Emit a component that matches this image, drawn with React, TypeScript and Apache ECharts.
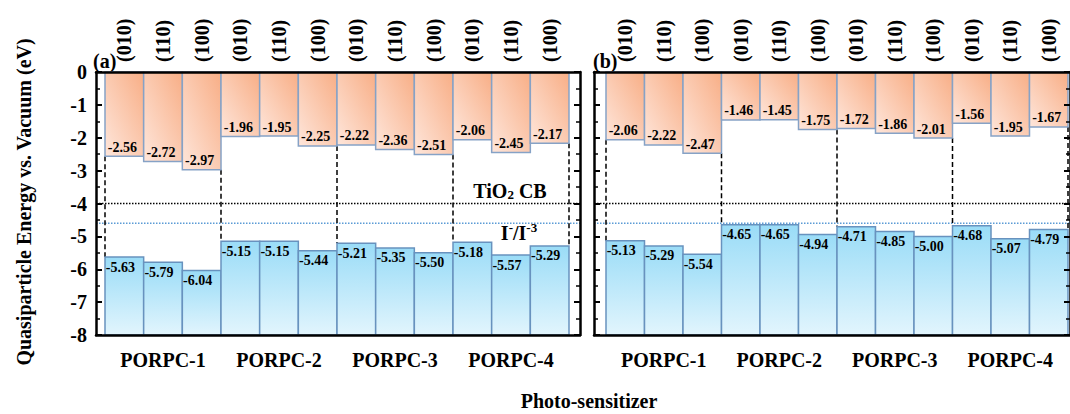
import React, { useEffect, useRef } from 'react';
import * as echarts from 'echarts';

const facetLabels = ['(010)', '(110)', '(100)', '(010)', '(110)', '(100)', '(010)', '(110)', '(100)', '(010)', '(110)', '(100)'];
const sensitizers = ['PORPC-1', 'PORPC-2', 'PORPC-3', 'PORPC-4'];
const lumoA = [-2.56, -2.72, -2.97, -1.96, -1.95, -2.25, -2.22, -2.36, -2.51, -2.06, -2.45, -2.17];
const homoA = [-5.63, -5.79, -6.04, -5.15, -5.15, -5.44, -5.21, -5.35, -5.50, -5.18, -5.57, -5.29];
const lumoB = [-2.06, -2.22, -2.47, -1.46, -1.45, -1.75, -1.72, -1.86, -2.01, -1.56, -1.95, -1.67];
const homoB = [-5.13, -5.29, -5.54, -4.65, -4.65, -4.94, -4.71, -4.85, -5.00, -4.68, -5.07, -4.79];
const tio2CB = -4.0;
const redoxLevel = -4.6;
const energyMin = -8;
const energyMax = 0;
const groupSize = 3;

const FONT = 'Liberation Serif';

function boundaryData(lumo: number[], homo: number[]) {
  const out: number[][] = [];
  for (let b = 0; b <= lumo.length; b += groupSize) {
    const nb = [b - 1, b].filter((k) => k >= 0 && k < lumo.length);
    const top = Math.min(...nb.map((k) => lumo[k]));
    const bottom = Math.max(...nb.map((k) => homo[k]));
    const idx = b < lumo.length ? b : lumo.length - 1;
    const side = b < lumo.length ? -1 : 1;
    out.push([idx, top, bottom, side]);
  }
  return out;
}

function barData(lumo: number[], homo: number[]) {
  return lumo.map((v, i) => [i, v, homo[i]]);
}

const labelStyle = { font: 'bold 14px Liberation Serif', fill: '#000' };

function renderBars(params: any, api: any) {
  const i = api.value(0);
  const lv = api.value(1);
  const hv = api.value(2);
  const bw = api.size([1, 0])[0];
  const pTop = api.coord([i, energyMax]);
  const pL = api.coord([i, lv]);
  const pH = api.coord([i, hv]);
  const pB = api.coord([i, energyMin]);
  const x = pTop[0] - bw / 2;
  return {
    type: 'group',
    children: [
      {
        type: 'rect',
        shape: { x, y: pTop[1], width: bw, height: pL[1] - pTop[1] },
        style: {
          fill: new echarts.graphic.LinearGradient(0, 1, 1, 0, [
            { offset: 0, color: '#fee6db' },
            { offset: 1, color: '#f8ae86' },
          ]),
          stroke: '#86a2c6',
          lineWidth: 1.5,
        },
      },
      {
        type: 'rect',
        shape: { x, y: pH[1], width: bw, height: pB[1] - pH[1] },
        style: {
          fill: new echarts.graphic.LinearGradient(0, 0, 0, 1, [
            { offset: 0, color: '#9adcf7' },
            { offset: 1, color: '#e2f5fd' },
          ]),
          stroke: '#6892be',
          lineWidth: 1.5,
        },
      },
      {
        type: 'text',
        x: pTop[0] - 2,
        y: pL[1] - 2,
        style: { ...labelStyle, text: lv.toFixed(2), align: 'center', verticalAlign: 'bottom' },
      },
      {
        type: 'text',
        x: pTop[0] - 4,
        y: pH[1] + 3,
        style: { ...labelStyle, text: hv.toFixed(2), align: 'center', verticalAlign: 'top' },
      },
    ],
  };
}

function renderBoundary(params: any, api: any) {
  const idx = api.value(0);
  const bw = api.size([1, 0])[0];
  const a = api.coord([idx, api.value(1)]);
  const c = api.coord([idx, api.value(2)]);
  const x = a[0] + (api.value(3) * bw) / 2;
  return {
    type: 'line',
    shape: { x1: x, y1: a[1], x2: x, y2: c[1] },
    style: { stroke: '#000', lineWidth: 1.5, lineDash: [5, 3] },
  };
}

const frameX = (gridIndex: number, position: string) => ({
  gridIndex,
  type: 'value',
  min: 0,
  max: 1,
  position,
  z: 6,
  axisLine: { show: true, onZero: false, lineStyle: { color: '#000', width: 2.5 } },
  axisTick: { show: false },
  axisLabel: { show: false },
  splitLine: { show: false },
});

const frameY = (gridIndex: number, position: string, labels: boolean) => ({
  gridIndex,
  type: 'value',
  min: energyMin,
  max: energyMax,
  interval: 1,
  position,
  z: 6,
  axisLine: { show: true, onZero: false, lineStyle: { color: '#000', width: 2.5 } },
  axisTick: { show: true, inside: true, length: 6, lineStyle: { color: '#000', width: 2 } },
  minorTick: { show: true, splitNumber: 2, length: 4, lineStyle: { color: '#000', width: 1.5 } },
  axisLabel: {
    show: labels,
    fontSize: 20,
    fontWeight: 'bold',
    fontFamily: FONT,
    color: '#000',
    margin: 9,
  },
  splitLine: { show: false },
});

const facetAxis = (gridIndex: number) => ({
  gridIndex,
  type: 'category',
  data: facetLabels,
  position: 'top',
  axisLine: { show: false },
  axisTick: { show: false },
  axisLabel: {
    interval: 0,
    rotate: 90,
    fontSize: 20,
    fontWeight: 'bold',
    fontFamily: FONT,
    color: '#000',
    margin: 10,
  },
  splitLine: { show: false },
});

const groupAxis = (gridIndex: number) => ({
  gridIndex,
  type: 'category',
  data: sensitizers,
  position: 'bottom',
  axisLine: { show: false },
  axisTick: { show: false },
  axisLabel: {
    interval: 0,
    fontSize: 20,
    fontWeight: 'bold',
    fontFamily: FONT,
    color: '#000',
    margin: 15,
  },
  splitLine: { show: false },
});

const hiddenY = (gridIndex: number) => ({
  gridIndex,
  type: 'value',
  min: energyMin,
  max: energyMax,
  show: false,
});

const levelLine = (xAxisIndex: number, yAxisIndex: number, level: number, color: string) => ({
  type: 'line',
  xAxisIndex,
  yAxisIndex,
  data: [
    [0, level],
    [1, level],
  ],
  symbol: 'none',
  silent: true,
  z: 1,
  lineStyle: { color, width: 1.5, type: 'dotted' },
});

export default function App() {
  const ref = useRef<HTMLDivElement>(null);
  useEffect(() => {
    if (!ref.current) return;
    const chart = echarts.init(ref.current, null, { renderer: 'svg' });
    const textBase = { fontWeight: 'bold', fontFamily: FONT, fill: '#000' };
    chart.setOption({
      animation: false,
      backgroundColor: '#fff',
      textStyle: { fontFamily: FONT },
      grid: [
        { left: 96, top: 72, width: 484, height: 263 },
        { left: 105, top: 72, width: 464, height: 263 },
        { left: 594, top: 72, width: 484, height: 263 },
        { left: 606, top: 72, width: 462, height: 263 },
      ],
      xAxis: [
        frameX(0, 'bottom'),
        frameX(0, 'top'),
        facetAxis(1),
        groupAxis(1),
        frameX(2, 'bottom'),
        frameX(2, 'top'),
        facetAxis(3),
        groupAxis(3),
      ],
      yAxis: [
        frameY(0, 'left', true),
        frameY(0, 'right', false),
        hiddenY(1),
        frameY(2, 'left', false),
        frameY(2, 'right', false),
        hiddenY(3),
      ],
      series: [
        levelLine(0, 0, tio2CB, '#000'),
        levelLine(0, 0, redoxLevel, '#5b9bd5'),
        levelLine(4, 3, tio2CB, '#000'),
        levelLine(4, 3, redoxLevel, '#5b9bd5'),
        {
          type: 'custom',
          xAxisIndex: 2,
          yAxisIndex: 2,
          z: 2,
          silent: true,
          data: boundaryData(lumoA, homoA),
          encode: { x: 0, y: [1, 2] },
          renderItem: renderBoundary,
        },
        {
          type: 'custom',
          xAxisIndex: 2,
          yAxisIndex: 2,
          z: 3,
          silent: true,
          data: barData(lumoA, homoA),
          encode: { x: 0, y: [1, 2] },
          renderItem: renderBars,
        },
        {
          type: 'custom',
          xAxisIndex: 6,
          yAxisIndex: 5,
          z: 2,
          silent: true,
          data: boundaryData(lumoB, homoB),
          encode: { x: 0, y: [1, 2] },
          renderItem: renderBoundary,
        },
        {
          type: 'custom',
          xAxisIndex: 6,
          yAxisIndex: 5,
          z: 3,
          silent: true,
          data: barData(lumoB, homoB),
          encode: { x: 0, y: [1, 2] },
          renderItem: renderBars,
        },
      ],
      graphic: [
        {
          type: 'text',
          x: 24,
          y: 202,
          rotation: Math.PI / 2,
          style: {
            ...textBase,
            text: 'Quasiparticle Energy vs. Vacuum (eV)',
            fontSize: 20,
            align: 'center',
            verticalAlign: 'middle',
          },
        },
        {
          type: 'text',
          x: 589,
          y: 401,
          style: { ...textBase, text: 'Photo-sensitizer', fontSize: 20, align: 'center', verticalAlign: 'middle' },
        },
        {
          type: 'text',
          x: 93,
          y: 61,
          style: { ...textBase, text: '(a)', fontSize: 20, align: 'left', verticalAlign: 'middle' },
        },
        {
          type: 'text',
          x: 593,
          y: 61,
          style: { ...textBase, text: '(b)', fontSize: 20, align: 'left', verticalAlign: 'middle' },
        },
        {
          type: 'text',
          x: 510,
          y: 190,
          style: {
            text: '{b|TiO}{s|2}{b| CB}',
            align: 'center',
            verticalAlign: 'middle',
            rich: {
              b: { fontSize: 20, fontWeight: 'bold', fontFamily: FONT, color: '#000', lineHeight: 22, verticalAlign: 'bottom' },
              s: { fontSize: 13, fontWeight: 'bold', fontFamily: FONT, color: '#000', lineHeight: 13, verticalAlign: 'bottom' },
            },
          },
        },
        {
          type: 'text',
          x: 519,
          y: 232,
          style: {
            text: '{b|I}{p|-}{b|/I}{p|-3}',
            align: 'center',
            verticalAlign: 'middle',
            rich: {
              b: { fontSize: 20, fontWeight: 'bold', fontFamily: FONT, color: '#000', lineHeight: 22, verticalAlign: 'bottom' },
              p: { fontSize: 13, fontWeight: 'bold', fontFamily: FONT, color: '#000', lineHeight: 13, verticalAlign: 'top' },
            },
          },
        },
      ],
    });
    return () => chart.dispose();
  }, []);
  return <div ref={ref} style={{ position: 'absolute', left: 0, top: 0, width: 1070, height: 414 }} />;
}
